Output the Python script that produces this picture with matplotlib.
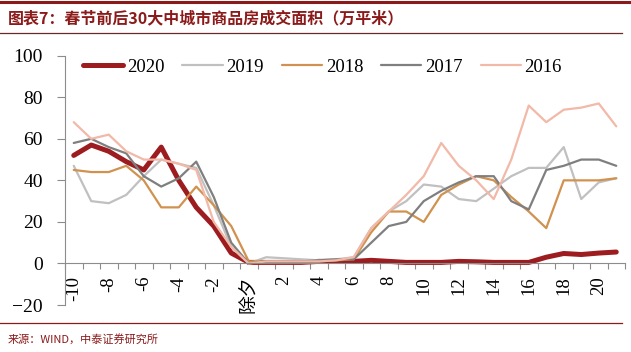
import numpy as np
import matplotlib.pyplot as plt
from matplotlib.lines import Line2D
from matplotlib.ticker import FixedLocator

# days around the Spring Festival (0 = 除夕)
days = list(range(-10, 22))

area_2020 = [52, 57, 54, 49, 45, 56, 40, 27, 18, 5, 0.5, 0.5, 0.5, 0.5, 1, 1,
             1, 1.5, 1, 0.5, 0.5, 0.5, 1, 0.8, 0.5, 0.5, 0.5, 3, 4.8, 4.3, 5, 5.5]
area_2019 = [47, 30, 29, 33, 42, 50, 48, 46, 28, 8, 0, 3, 2.5, 2, 1.5, 2,
             3, 17, 25, 30, 38, 37, 31, 30, 36, 42, 46, 46, 56, 31, 39, 41]
area_2018 = [45, 44, 44, 47, 40, 27, 27, 37, 28, 18, 1, 1, 1, 1, 1, 1.5,
             2, 15, 25, 25, 20, 33, 38, 42, 40, 32, 25, 17, 40, 40, 40, 41]
area_2017 = [58, 60, 56, 53, 42, 37, 41, 49, 32, 10, 0, 1, 1, 1, 1.5, 2,
             2, 10, 18, 20, 30, 35, 39, 42, 42, 30, 26, 45, 47, 50, 50, 47]
area_2016 = [68, 60, 62, 54, 50, 50, 48, 45, 20, 8, 0, 1, 1, 1, 1, 1.5,
             3, 17, 25, 33, 42, 58, 47, 40, 31, 50, 76, 68, 74, 75, 77, 66]

series = [
    ("2020", area_2020, "#9C1C1F", 3.6),
    ("2019", area_2019, "#C0C0C0", 1.6),
    ("2018", area_2018, "#D0924E", 1.6),
    ("2017", area_2017, "#7F7F7F", 1.6),
    ("2016", area_2016, "#F2B8A8", 1.6),
]

label_days = list(range(-10, 22, 2))
label_text = ["除夕" if d == 0 else str(d) for d in label_days]

title = "图表7：春节前后30大中城市商品房成交面积（万平米）"
source = "来源：WIND，中泰证券研究所"

W, H = 631, 352
fig = plt.figure(figsize=(W / 100, H / 100), dpi=100)
ax = fig.add_axes([65 / W, 1 - 305 / H, 560 / W, (305 - 55.7) / H])

for name, vals, col, lw in series:
    ax.plot(days, vals, color=col, lw=lw, label=name,
            solid_joinstyle="round", solid_capstyle="round")

ax.set_xlim(-10.5, 21.5)
ax.set_ylim(-20, 100)

for s in ["top", "right"]:
    ax.spines[s].set_visible(False)
ax.spines["bottom"].set_position(("data", 0))
ax.spines["bottom"].set_color("#8C8C8C")
ax.spines["left"].set_color("#8C8C8C")

ax.set_yticks(range(-20, 101, 20))
ax.tick_params(axis="y", direction="out", length=6, width=0.8,
               color="#8C8C8C", pad=10, labelsize=14)

ax.set_xticks(label_days)
ax.set_xticklabels(label_text, rotation=90)
ax.xaxis.set_minor_locator(FixedLocator(np.arange(-10.5, 21.6, 1)))
ax.tick_params(axis="x", which="major", length=0, pad=9, labelsize=13.5)
ax.tick_params(axis="x", which="minor", direction="out", length=4,
               width=0.8, color="#8C8C8C")

serif = ["Liberation Serif", "Noto Sans CJK SC"]
for lab in ax.get_xticklabels() + ax.get_yticklabels():
    lab.set_family(serif)

leg = fig.legend(loc="center left", bbox_to_anchor=(83 / W, 1 - 67 / H),
                 ncol=5, frameon=False, borderpad=0, borderaxespad=0,
                 handlelength=2.15, handletextpad=0.2, columnspacing=0.95,
                 prop={"family": serif, "size": 13.5})

# header / footer rules and texts
red = "#8B1A1A"
fig.add_artist(Line2D([0, 1], [1 - 2 / H, 1 - 2 / H], color=red, lw=2.2))
fig.add_artist(Line2D([0, 0.985], [1 - 33 / H, 1 - 33 / H], color="#6B2A2A", lw=0.9))
fig.add_artist(Line2D([0, 0.985], [1 - 323 / H, 1 - 323 / H], color=red, lw=0.9))
fig.text(8 / W, 1 - 18 / H, title, color=red, fontsize=11.5, fontweight="bold",
         va="center", ha="left", family=["Noto Sans CJK SC", "DejaVu Sans"])
fig.text(8 / W, 1 - 339 / H, source, color=red, fontsize=8,
         va="center", ha="left", family=["Noto Sans CJK SC", "DejaVu Sans"])

fig.savefig("out.png", dpi=100)
